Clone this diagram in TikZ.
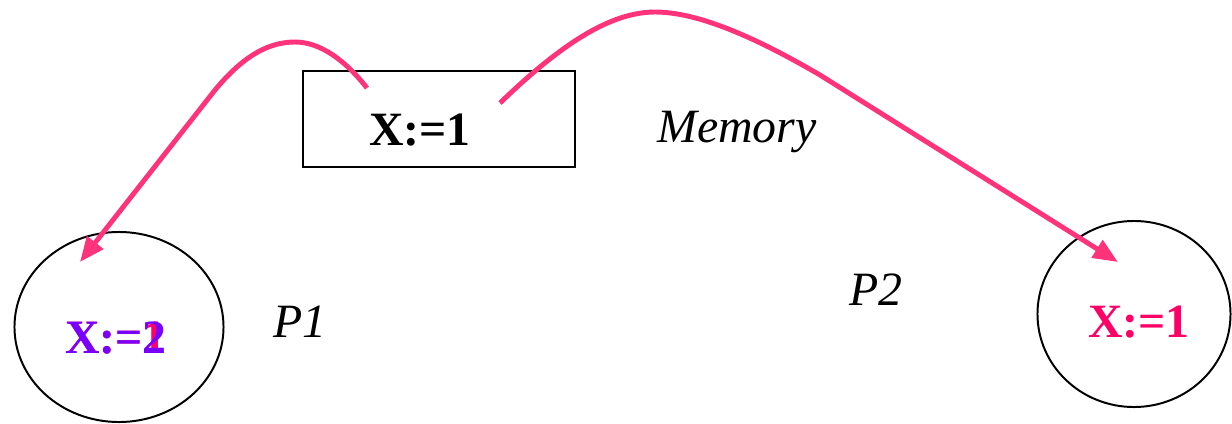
\documentclass[tikz,border=0pt]{standalone}
\usepackage{fontspec}
\setmainfont{Liberation Serif}
\usepackage{xcolor}
\definecolor{wirePink}{RGB}{255,51,122}
\definecolor{valPink}{RGB}{255,0,102}
\definecolor{valPurple}{RGB}{119,0,255}
\usepackage{tikz}
\usetikzlibrary{arrows.meta,shapes.geometric,positioning,calc}
\tikzstyle{membox}=[rectangle, draw=black, line width=1.4pt, minimum width=6.8cm, minimum height=2.4cm, inner sep=0pt]
\tikzstyle{procnode}=[ellipse, draw=black, line width=1.4pt, inner sep=0pt]
\tikzstyle{assign}=[font=\fontsize{34}{40}\selectfont\bfseries, inner sep=0pt]
\tikzstyle{tag}=[font=\fontsize{34}{40}\selectfont\itshape, inner sep=0pt]
\tikzstyle{wire}=[-{Triangle[length=0.62cm, width=0.5cm]}, line width=3.5pt, color=wirePink]

\begin{document}
\begin{tikzpicture}[x=0.025cm, y=-0.025cm]
    \useasboundingbox (0,0) rectangle (1232,423);

    % Memória
    \node[membox] (mem) at (439, 119) {};
    \node[assign] (memval) at (420, 130) {X:=1};
    \node[tag] (memtag) at (737, 132) {Memory};

    % Processos
    \node[procnode, minimum width=5.225cm, minimum height=4.75cm] (p1) at (119, 327) {};
    \node[procnode, minimum width=4.825cm, minimum height=4.65cm] (p2) at (1134, 314) {};
    \node[tag] (p1tag) at (300, 322) {P1};
    \node[tag] (p2tag) at (876, 290) {P2};

    % Valores locais
    \node[assign, color=valPink] (p1old) at (116, 338) {X:=1};
    \node[assign, color=valPurple] (p1new) at (116, 338) {X:=2};
    \node[assign, color=valPink] (p2val) at (1139, 322) {X:=1};

    % Pontos de saída e chegada
    \coordinate (memL) at (367, 88);
    \coordinate (memR) at (500, 103);
    \coordinate (p1in) at (80, 262);
    \coordinate (p2in) at (1118, 262);

    % Setas
    \draw[wire] (memL) .. controls (345, 60) and (320, 42) .. (295, 42)
                       .. controls (265, 42) and (240, 60) .. (215, 90) -- (p1in);
    \draw[wire] (memR) .. controls (560, 45) and (610, 12) .. (655, 12)
                       .. controls (700, 12) and (760, 40) .. (820, 75) -- (p2in);
  \end{tikzpicture}
\end{document}
